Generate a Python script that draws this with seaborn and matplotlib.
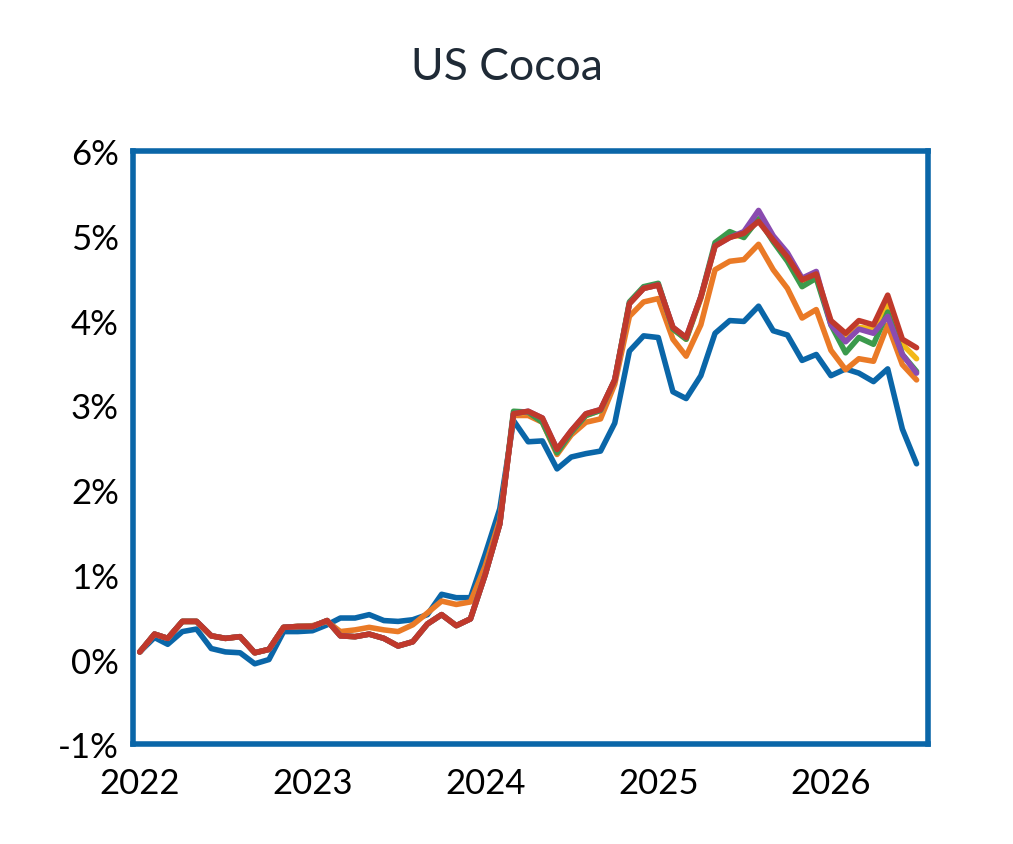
import matplotlib.pyplot as plt
import matplotlib.dates as mdates
import seaborn as sns
import pandas as pd

months = pd.date_range("2022-01-01", "2026-07-01", freq="MS")

blue = [0.09, 0.26, 0.18, 0.33, 0.36, 0.13, 0.09, 0.08, -0.05, 0.00, 0.33, 0.33,
        0.34, 0.41, 0.49, 0.49, 0.53, 0.46, 0.45, 0.47, 0.53, 0.77, 0.73, 0.73,
        1.24, 1.78, 2.82, 2.57, 2.58, 2.25, 2.39, 2.43, 2.46, 2.79, 3.64, 3.82,
        3.80, 3.16, 3.08, 3.35, 3.85, 4.00, 3.99, 4.17, 3.88, 3.83, 3.53, 3.60,
        3.35, 3.43, 3.38, 3.28, 3.43, 2.72, 2.31]
orange = [0.09, 0.30, 0.25, 0.45, 0.45, 0.28, 0.25, 0.27, 0.08, 0.12, 0.38, 0.39,
          0.40, 0.45, 0.33, 0.35, 0.38, 0.35, 0.33, 0.41, 0.55, 0.69, 0.65, 0.68,
          1.10, 1.65, 2.88, 2.88, 2.80, 2.42, 2.65, 2.80, 2.84, 3.25, 4.05, 4.22,
          4.26, 3.78, 3.58, 3.95, 4.60, 4.70, 4.72, 4.90, 4.60, 4.38, 4.03, 4.13,
          3.65, 3.42, 3.55, 3.52, 3.95, 3.48, 3.30]
yellow = [0.09, 0.30, 0.25, 0.45, 0.45, 0.28, 0.25, 0.27, 0.08, 0.12, 0.38, 0.39,
          0.39, 0.46, 0.28, 0.27, 0.30, 0.25, 0.16, 0.21, 0.42, 0.53, 0.40, 0.48,
          1.00, 1.60, 2.90, 2.92, 2.83, 2.46, 2.69, 2.88, 2.94, 3.30, 4.20, 4.38,
          4.42, 3.90, 3.78, 4.26, 4.88, 5.00, 5.00, 5.20, 4.95, 4.73, 4.45, 4.52,
          3.98, 3.78, 3.92, 3.90, 4.20, 3.72, 3.55]
green = [0.09, 0.30, 0.25, 0.45, 0.45, 0.28, 0.25, 0.27, 0.08, 0.12, 0.38, 0.39,
         0.39, 0.46, 0.28, 0.27, 0.30, 0.25, 0.16, 0.21, 0.42, 0.53, 0.40, 0.48,
         1.00, 1.60, 2.93, 2.92, 2.80, 2.44, 2.68, 2.88, 2.94, 3.30, 4.22, 4.40,
         4.44, 3.90, 3.78, 4.28, 4.92, 5.05, 4.98, 5.20, 4.93, 4.70, 4.40, 4.50,
         3.95, 3.62, 3.80, 3.72, 4.10, 3.60, 3.40]
purple = [0.09, 0.30, 0.25, 0.45, 0.45, 0.28, 0.25, 0.27, 0.08, 0.12, 0.38, 0.39,
          0.39, 0.46, 0.28, 0.27, 0.30, 0.25, 0.16, 0.21, 0.42, 0.53, 0.40, 0.48,
          1.00, 1.60, 2.90, 2.93, 2.85, 2.48, 2.70, 2.90, 2.95, 3.30, 4.20, 4.38,
          4.42, 3.92, 3.80, 4.28, 4.88, 4.98, 5.05, 5.30, 5.00, 4.80, 4.50, 4.58,
          3.95, 3.75, 3.90, 3.85, 4.05, 3.60, 3.38]
red = [0.09, 0.30, 0.25, 0.45, 0.45, 0.28, 0.25, 0.27, 0.08, 0.12, 0.38, 0.39,
       0.39, 0.46, 0.28, 0.27, 0.30, 0.25, 0.16, 0.21, 0.42, 0.53, 0.40, 0.48,
       1.00, 1.60, 2.90, 2.93, 2.85, 2.48, 2.70, 2.90, 2.95, 3.30, 4.20, 4.38,
       4.42, 3.92, 3.80, 4.28, 4.88, 4.98, 5.03, 5.17, 4.95, 4.75, 4.48, 4.55,
       4.00, 3.85, 4.00, 3.95, 4.30, 3.78, 3.68]

series = {"blue": blue, "orange": orange, "yellow": yellow,
          "green": green, "purple": purple, "red": red}
colors = {"blue": "#0a66a8", "orange": "#ea7a26", "yellow": "#f2b817",
          "green": "#3b9a4c", "purple": "#8a4bb0", "red": "#c0392b"}

df = pd.concat([pd.DataFrame({"date": months, "value": v, "series": k})
                for k, v in series.items()])

sns.set_style("white")
plt.rcParams['font.family'] = ['Lato', 'DejaVu Sans']

fig = plt.figure(figsize=(10.13, 8.45), dpi=100)
ax = fig.add_axes([0.131, 0.118, 0.785, 0.702])
sns.lineplot(data=df, x="date", y="value", hue="series", palette=colors,
             linewidth=4, legend=False, ax=ax)

ax.set_ylim(-1, 6)
ax.set_yticks(range(-1, 7))
ax.set_yticklabels([f"{t}%" for t in range(-1, 7)])
ax.set_xlim(pd.Timestamp("2021-12-17"), pd.Timestamp("2026-07-25"))
ax.xaxis.set_major_locator(mdates.YearLocator())
ax.xaxis.set_major_formatter(mdates.DateFormatter("%Y"))
ax.tick_params(labelsize=25, colors="black", length=0)
ax.tick_params(axis="x", pad=16)
ax.tick_params(axis="y", pad=10)
ax.set_xlabel("")
ax.set_ylabel("")
for s in ax.spines.values():
    s.set_color("#0a66a8")
    s.set_linewidth(4)
fig.text(0.5, 0.92, "US Cocoa", ha="center", va="center", fontsize=32, color="#1f2a36")
fig.savefig("out.png", dpi=100)
